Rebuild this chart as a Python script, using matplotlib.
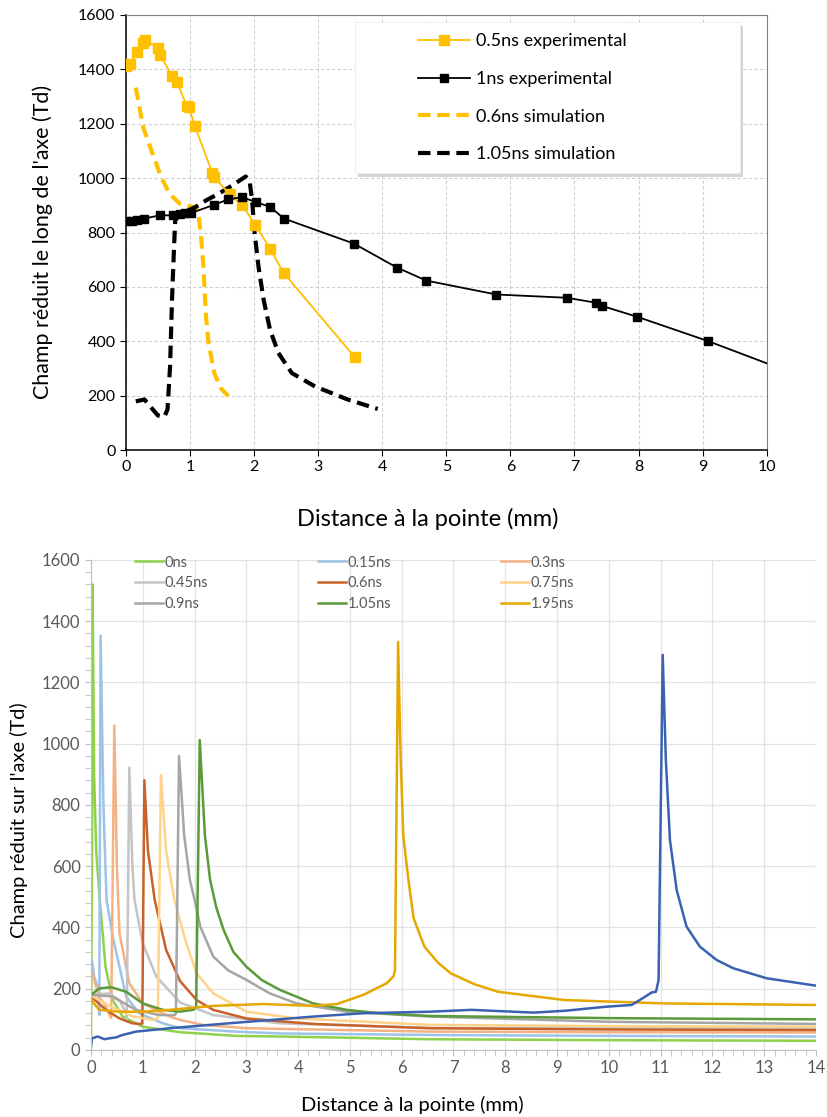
import matplotlib
matplotlib.use("Agg")
import matplotlib.pyplot as plt
from matplotlib.patches import Rectangle
from matplotlib.ticker import MultipleLocator

plt.rcParams['font.family'] = ['Lato', 'DejaVu Sans']

# ---- top chart data (distance mm, reduced field Td) ----
exp05_x = [0.0, 0.06, 0.17, 0.27, 0.30, 0.50, 0.54, 0.72, 0.80, 0.95, 0.98, 1.08, 1.35, 1.38,
           1.62, 1.82, 2.02, 2.25, 2.46, 3.57]
exp05_y = [1413, 1419, 1462, 1498, 1507, 1480, 1452, 1376, 1352, 1266, 1262, 1190, 1018, 1004,
           940, 900, 827, 741, 652, 342]

exp1_x = [0.0, 0.09, 0.17, 0.28, 0.53, 0.73, 0.84, 0.92, 1.02, 1.38, 1.60, 1.81, 2.03, 2.25,
          2.47, 3.56, 4.23, 4.69, 5.78, 6.88, 7.33, 7.43, 7.98, 9.08, 10.0]
exp1_y = [842, 842, 845, 851, 863, 863, 869, 872, 872, 902, 922, 930, 912, 894,
          851, 759, 671, 623, 572, 560, 542, 530, 490, 401, 319]

sim06_x = [0.155, 0.27, 0.40, 0.55, 0.68, 0.84, 0.99, 1.09, 1.13, 1.17, 1.21, 1.25, 1.29, 1.38, 1.48, 1.60]
sim06_y = [1333, 1187, 1101, 1004, 943, 906, 896, 894, 869, 796, 674, 491, 393, 283, 228, 198]

sim105_x = [0.155, 0.29, 0.40, 0.50, 0.60, 0.65, 0.69, 0.72, 0.75, 0.77, 0.86, 1.09, 1.25, 1.45,
            1.66, 1.87, 1.93, 1.97, 2.01, 2.07, 2.15, 2.25, 2.38, 2.59, 2.95, 3.46, 3.93]
sim105_y = [179, 186, 155, 127, 122, 149, 308, 552, 735, 845, 869, 894, 918, 943,
            973, 1006, 991, 918, 796, 674, 552, 442, 357, 283, 234, 186, 151]

# ---- bottom chart data: one curve per time ----
c0_x = [0.0, 0.02, 0.03, 0.06, 0.1, 0.17, 0.28, 0.42, 0.61, 1.0, 1.72, 2.8, 3.65, 6.55, 10.0, 14.0]
c0_y = [40, 600, 1520, 900, 650, 490, 272, 163, 109, 76, 58, 46, 44, 35, 32, 30]

c015_x = [0.0, 0.02, 0.06, 0.13, 0.16, 0.185, 0.24, 0.30, 0.42, 0.52, 0.68, 0.93, 1.39, 1.72,
          2.8, 3.65, 6.55, 10.0, 14.0]
c015_y = [299, 290, 240, 207, 114, 1353, 800, 490, 370, 294, 174, 120, 87, 71,
          60, 54, 49, 46, 44]

c03_x = [0.0, 0.16, 0.29, 0.37, 0.39, 0.45, 0.50, 0.55, 0.74, 1.0, 1.52, 1.72, 2.16, 3.0, 6.55, 10.0, 14.0]
c03_y = [261, 174, 141, 109, 105, 1059, 600, 381, 218, 152, 109, 98, 82, 71, 60, 58, 57]

c045_x = [0.0, 0.35, 0.55, 0.68, 0.69, 0.74, 0.80, 0.84, 1.0, 1.26, 1.72, 2.36, 3.65, 6.55, 10.0, 14.0]
c045_y = [180, 185, 163, 120, 98, 922, 600, 490, 348, 240, 155, 114, 87, 72, 71, 70]

c06_x = [0.0, 0.29, 0.55, 0.8, 0.97, 0.99, 1.03, 1.1, 1.23, 1.45, 1.72, 2.04, 2.36, 3.0, 4.29,
         6.55, 10.0, 14.0]
c06_y = [174, 131, 103, 87, 85, 87, 881, 650, 490, 327, 225, 163, 131, 103, 85,
         71, 67, 65]

c075_x = [0.0, 0.4, 0.8, 1.19, 1.29, 1.35, 1.45, 1.61, 1.84, 2.04, 2.36, 3.0, 3.97, 6.55, 10.0, 14.0]
c075_y = [178, 140, 110, 98, 103, 898, 650, 490, 348, 250, 185, 125, 103, 82, 78, 76]

c09_x = [0.0, 0.4, 0.87, 1.32, 1.62, 1.64, 1.70, 1.80, 1.91, 2.0, 2.11, 2.36, 2.65, 3.0, 3.45,
         3.97, 4.94, 6.55, 10.0, 14.0]
c09_y = [180, 175, 131, 114, 114, 120, 960, 700, 555, 490, 403, 305, 260, 229, 185,
         152, 125, 109, 92, 85]

c105_x = [0.0, 0.16, 0.39, 0.68, 1.0, 1.39, 1.71, 1.97, 2.03, 2.10, 2.2, 2.3, 2.42, 2.56, 2.75,
          3.0, 3.3, 3.65, 4.29, 4.94, 5.58, 6.55, 10.0, 14.0]
c105_y = [180, 201, 205, 190, 152, 131, 125, 131, 140, 1012, 700, 555, 465, 392, 320,
          272, 228, 196, 152, 131, 120, 111, 104, 100]

c195_x = [0.0, 0.16, 0.55, 1.0, 1.52, 2.36, 3.33, 4.29, 4.75, 5.26, 5.71, 5.84, 5.87, 5.93, 5.98,
          6.03, 6.13, 6.23, 6.44, 6.7, 6.95, 7.4, 7.86, 9.15, 11.08, 14.0]
c195_y = [163, 131, 125, 125, 131, 144, 150, 144, 150, 180, 218, 240, 260, 1332, 950,
          700, 555, 430, 337, 285, 250, 215, 190, 163, 152, 147]

cblue_x = [0.0, 0.02, 0.13, 0.26, 0.35, 0.48, 0.61, 0.87, 1.52, 2.8, 4.29, 5.26, 6.55, 7.35,
           8.54, 9.15, 9.93, 10.44, 10.7, 10.83, 10.91, 10.96, 11.04, 11.1, 11.18, 11.31,
           11.5, 11.76, 12.08, 12.4, 13.05, 14.0]
cblue_y = [11, 38, 44, 35, 38, 41, 49, 60, 71, 89, 109, 120, 125, 131,
           122, 128, 141, 147, 174, 188, 190, 228, 1290, 950, 685, 522,
           403, 337, 294, 267, 234, 210]

# label, colour, x, y  (row-major order as shown in the legend)
curves = [
    ("0ns", "#8ED14B", c0_x, c0_y),
    ("0.15ns", "#9DC3E6", c015_x, c015_y),
    ("0.3ns", "#F4B183", c03_x, c03_y),
    ("0.45ns", "#C4C4C4", c045_x, c045_y),
    ("0.6ns", "#C9622A", c06_x, c06_y),
    ("0.75ns", "#FFD48A", c075_x, c075_y),
    ("0.9ns", "#A5A5A5", c09_x, c09_y),
    ("1.05ns", "#5A9A3A", c105_x, c105_y),
    ("1.95ns", "#E5A800", c195_x, c195_y),
]

fig = plt.figure(figsize=(8.28, 11.17), dpi=100)

# ================= top chart =================
ax = fig.add_axes([0.152, 0.5971, 0.774, 0.3895])
orange = "#FFC000"
ax.plot(sim06_x, sim06_y, color=orange, lw=3, dashes=(3, 1.6), label="0.6ns simulation", zorder=3)
ax.plot(sim105_x, sim105_y, color="black", lw=3, dashes=(3, 1.6), label="1.05ns simulation", zorder=3)
ax.plot(exp05_x, exp05_y, color=orange, lw=1.3, marker="s", ms=7.5,
        label="0.5ns experimental", zorder=4)
ax.plot(exp1_x, exp1_y, color="black", lw=1.3, marker="s", ms=6,
        markevery=list(range(len(exp1_x) - 1)), label="1ns experimental", zorder=5)

ax.set_xlim(0, 10)
ax.set_ylim(0, 1600)
ax.xaxis.set_major_locator(MultipleLocator(1))
ax.yaxis.set_major_locator(MultipleLocator(200))
ax.grid(True, color="#d0d0d0", lw=0.8, ls=(0, (3, 2)))
ax.set_axisbelow(True)
for s in ["top", "right"]:
    ax.spines[s].set_color("#808080")
for s in ["left", "bottom"]:
    ax.spines[s].set_color("black")
    ax.spines[s].set_linewidth(1.1)
ax.tick_params(labelsize=11.5, length=4, direction="out")
ax.set_ylabel("Champ réduit le long de l'axe (Td)", fontsize=15.4)
ax.yaxis.set_label_coords(-0.114, 0.478)
ax.set_xlabel("Distance à la pointe (mm)", fontsize=17)
ax.xaxis.set_label_coords(0.471, -0.133)

# legend box with a soft shadow
ax.add_patch(Rectangle((0.3625, 0.628), 0.601, 0.347, transform=ax.transAxes,
                       facecolor="#d4d4d4", edgecolor="none", zorder=6))
ax.add_patch(Rectangle((0.357, 0.637), 0.601, 0.347, transform=ax.transAxes,
                       facecolor="white", edgecolor="#ececec", lw=0.6, zorder=7))
h, lab = ax.get_legend_handles_labels()
order = [2, 3, 0, 1]
leg = ax.legend([h[i] for i in order], [lab[i] for i in order], loc="upper left",
                bbox_to_anchor=(0.4555, 0.958), frameon=False, fontsize=13,
                handlelength=2.9, handletextpad=0.3, labelspacing=1.2, borderpad=0,
                borderaxespad=0, numpoints=1)
leg.set_zorder(8)

# ================= bottom chart =================
bx = fig.add_axes([0.1099, 0.06, 0.8756, 0.4387])
for label, col, xs, ys in curves:
    bx.plot(xs, ys, color=col, lw=1.8, label=label)
bx.plot(cblue_x, cblue_y, color="#3A62B0", lw=1.8)

bx.set_xlim(0, 14)
bx.set_ylim(0, 1600)
bx.xaxis.set_major_locator(MultipleLocator(1))
bx.xaxis.set_minor_locator(MultipleLocator(0.2))
bx.yaxis.set_major_locator(MultipleLocator(200))
bx.yaxis.set_minor_locator(MultipleLocator(40))
bx.grid(True, which="major", color="#e3e3e3", lw=0.9)
bx.set_axisbelow(True)
for s in ["top", "right"]:
    bx.spines[s].set_visible(False)
for s in ["left", "bottom"]:
    bx.spines[s].set_color("#bfbfbf")
bx.tick_params(which="both", colors="#bfbfbf", labelcolor="#595959", labelsize=12, length=4)
bx.set_ylabel("Champ réduit sur l'axe (Td)", fontsize=14.5)
bx.yaxis.set_label_coords(-0.087, 0.469)
bx.set_xlabel("Distance à la pointe (mm)", fontsize=14.5)
bx.xaxis.set_label_coords(0.443, -0.094)

h2, lab2 = bx.get_legend_handles_labels()
col_order = [0, 3, 6, 1, 4, 7, 2, 5, 8]
leg2 = bx.legend([h2[i] for i in col_order], [lab2[i] for i in col_order], ncol=3,
                 loc="upper left", bbox_to_anchor=(0.0607, 1.009), frameon=False,
                 fontsize=10.5, handlelength=1.9, handletextpad=0.15, labelspacing=0.45,
                 columnspacing=7.5, borderpad=0, borderaxespad=0)
for t in leg2.get_texts():
    t.set_color("#595959")

fig.savefig("out.png", dpi=100)
